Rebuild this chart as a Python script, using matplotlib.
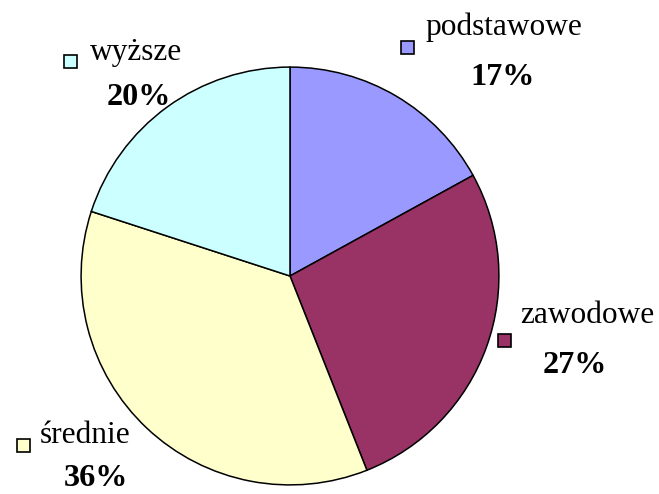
import matplotlib
matplotlib.use("Agg")
from matplotlib import pyplot as plt
from matplotlib.patches import Rectangle

# data
categories = ["podstawowe", "zawodowe", "średnie", "wyższe"]
shares = [17, 27, 36, 20]
colors = ["#9999FF", "#993366", "#FFFFCC", "#CCFFFF"]

W, H = 659, 494
fig = plt.figure(figsize=(W / 100, H / 100), dpi=100)
plt.rcParams["font.family"] = ["Liberation Serif", "DejaVu Serif"]

# pie centred at (290, 276) px, radius 211 px
cx, cy, r = 290, 276, 211
ax = fig.add_axes([(cx - r) / W, (H - cy - r) / H, 2 * r / W, 2 * r / H])
ax.pie(shares, colors=colors, startangle=90, counterclock=False,
       radius=1, wedgeprops=dict(edgecolor="black", linewidth=1.1))
ax.set_xlim(-1.01, 1.01)
ax.set_ylim(-1.01, 1.01)
ax.axis("off")

# label layout in pixels: (square centre x, y), (name x, baseline), (pct centre x, baseline)
layout = [
    ((407, 48), (425, 35), (503, 85)),
    ((504, 340), (520, 323), (575, 373)),
    ((23, 445), (40, 443), (96, 486)),
    ((70, 62), (90, 60), (139, 105)),
]

def fx(px):
    return px / W

def fy(py):
    return 1 - py / H

sq = 13
for name, val, col, (sqc, nm, pc) in zip(categories, shares, colors, layout):
    fig.add_artist(Rectangle((fx(sqc[0] - sq / 2), fy(sqc[1] + sq / 2)), sq / W, sq / H,
                             transform=fig.transFigure, facecolor=col,
                             edgecolor="black", linewidth=1.2))
    fig.text(fx(nm[0]), fy(nm[1]), name, fontsize=22.6, ha="left", va="baseline")
    fig.text(fx(pc[0]), fy(pc[1]), f"{val}%", fontsize=23.2, fontweight="bold",
             ha="center", va="baseline")

fig.savefig("out.png", dpi=100)
